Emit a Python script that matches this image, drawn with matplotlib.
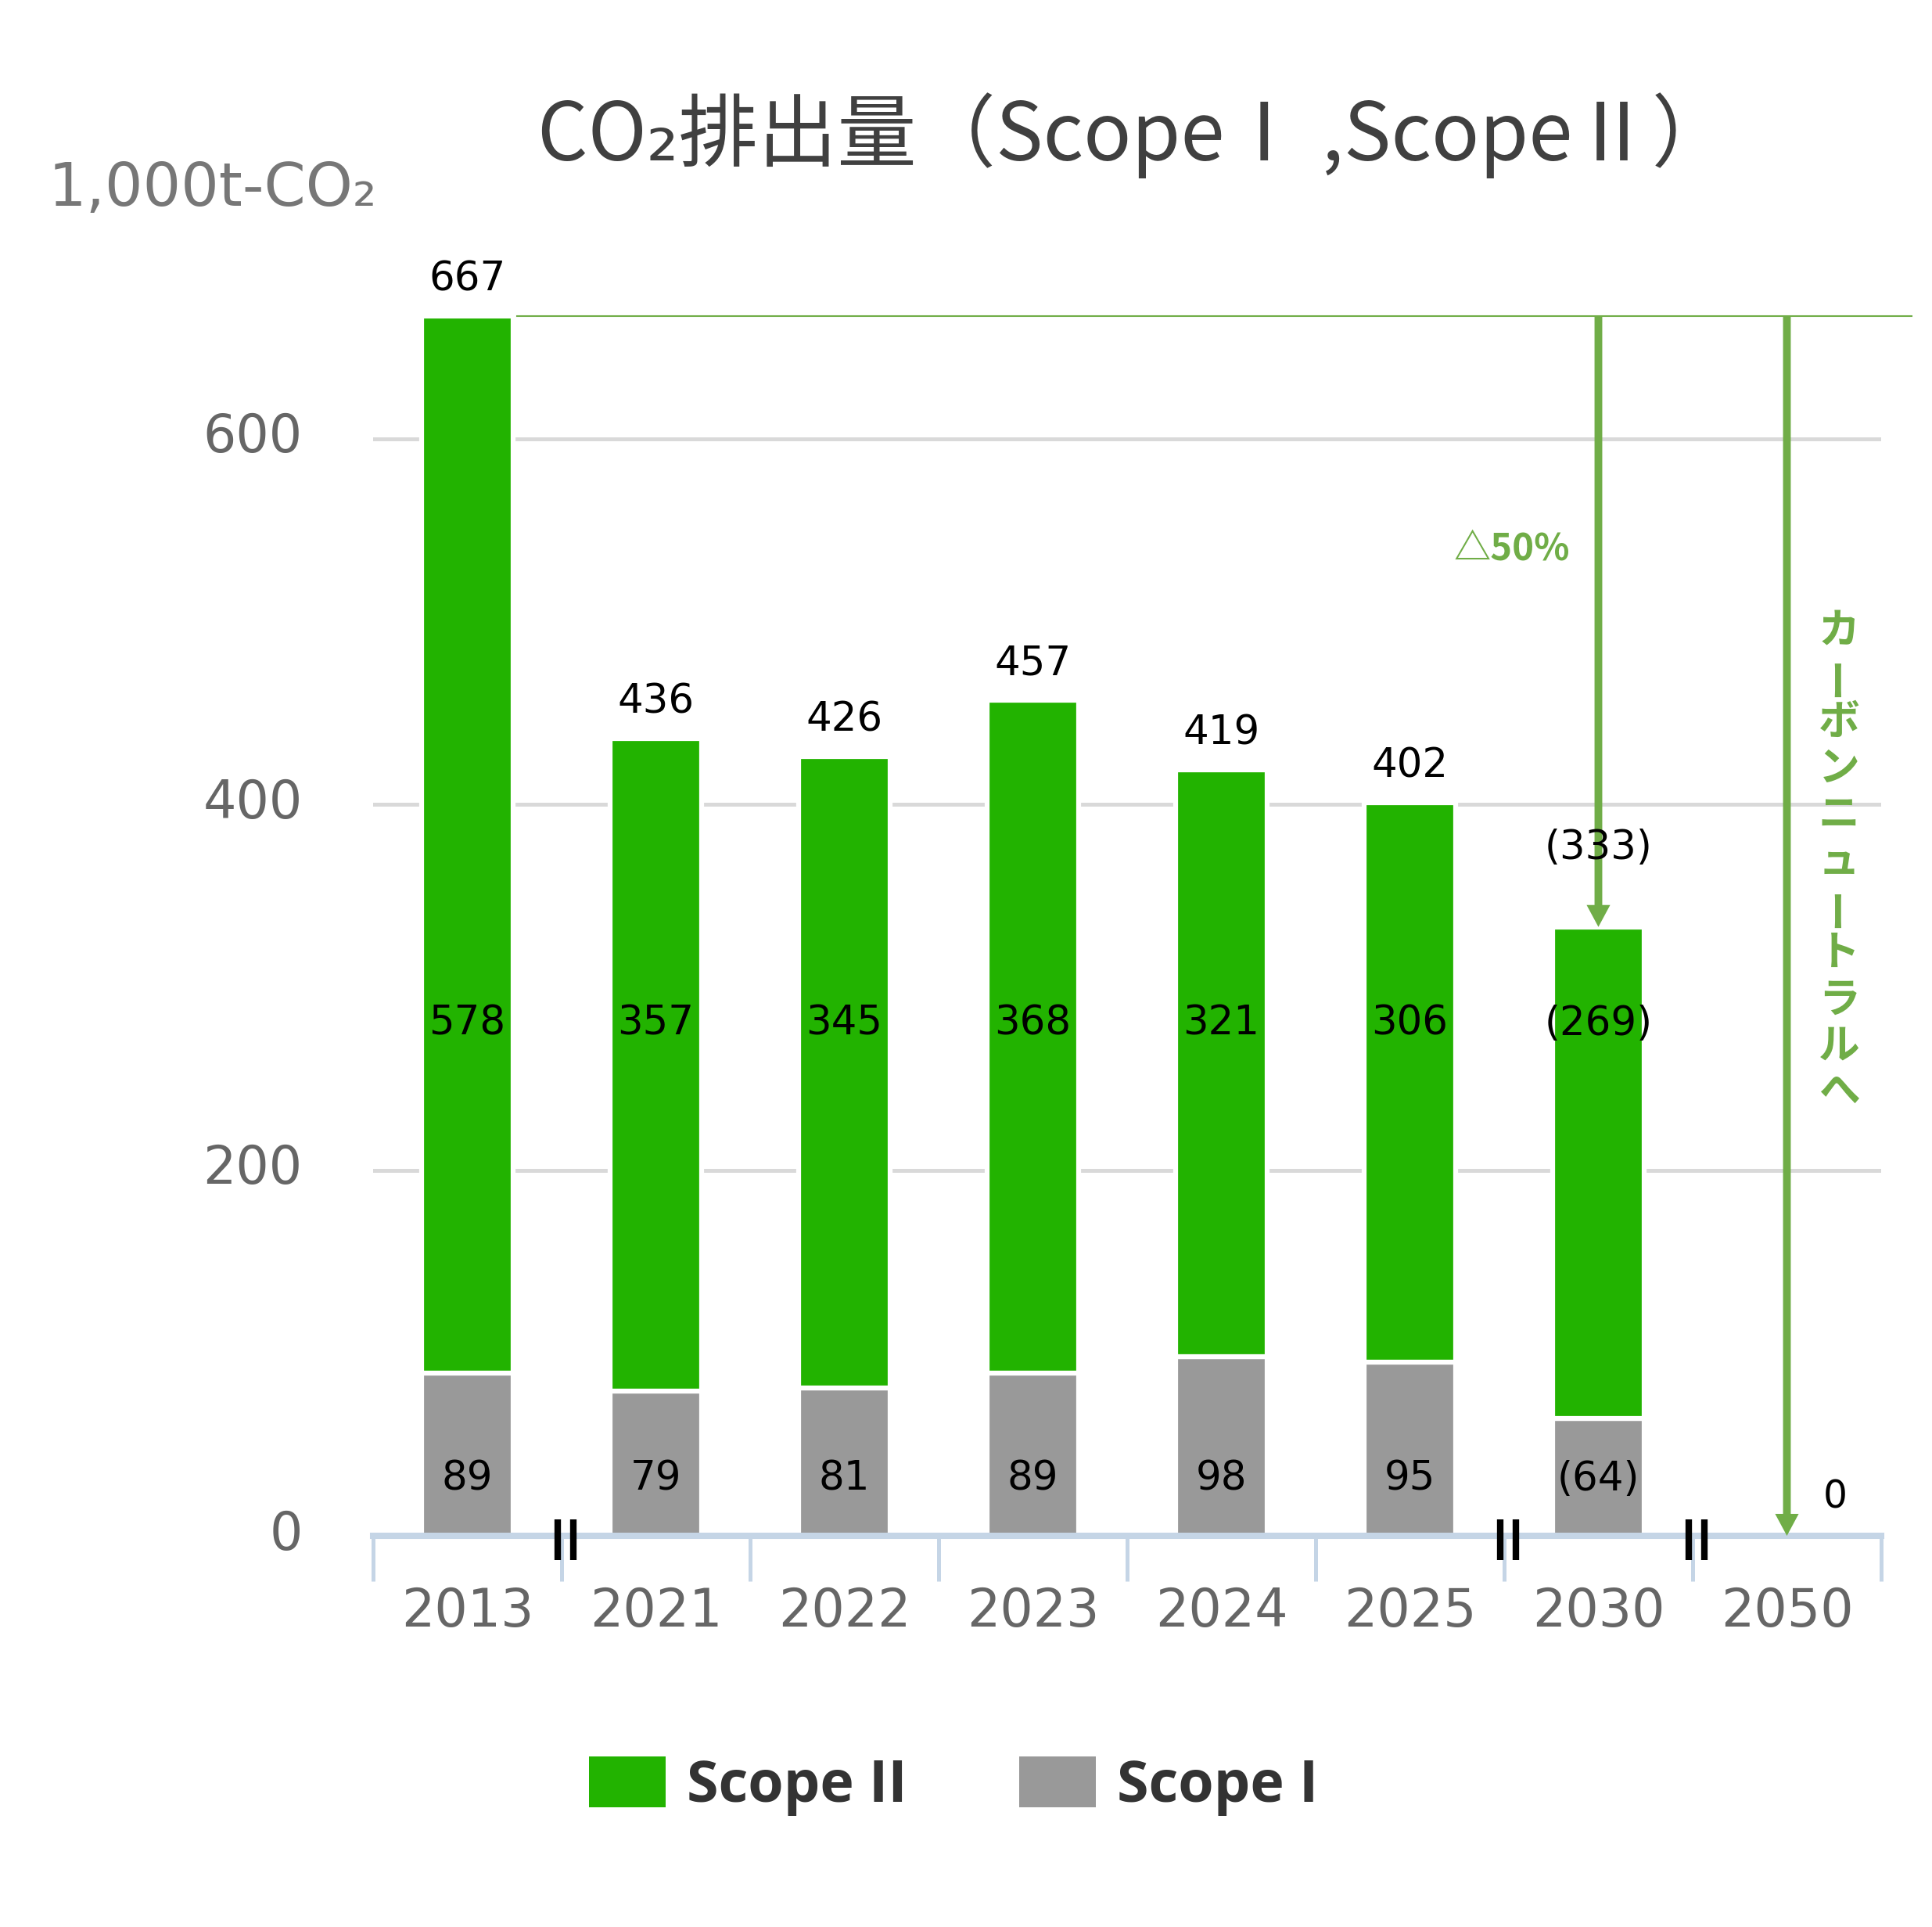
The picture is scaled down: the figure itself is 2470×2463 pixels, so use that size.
import matplotlib
matplotlib.use('Agg')
import matplotlib.pyplot as plt
import numpy as np
from matplotlib.patches import Patch
from matplotlib.transforms import offset_copy

# -- data --
years = ['2013', '2021', '2022', '2023', '2024', '2025', '2030', '2050']
scope1 = [89, 79, 81, 89, 98, 95, 64, 0]
scope2 = [578, 357, 345, 368, 321, 306, 269, 0]
total_labels = ['667', '436', '426', '457', '419', '402', '(333)', '']
scope1_labels = ['89', '79', '81', '89', '98', '95', '(64)', '']
scope2_labels = ['578', '357', '345', '368', '321', '306', '(269)', '']
base_2013 = 667
target_2030 = 333
target_2050 = 0
breaks = [0.5, 5.5, 6.5]

GREEN = '#22B300'
GREY = '#999999'
ARROW = '#70AD47'
AXIS = '#C5D5E6'
JP = ['Noto Sans CJK JP', 'DejaVu Sans']

W, H = 2470, 2463
fig = plt.figure(figsize=(W / 100, H / 100), dpi=100)
ax = fig.add_axes([477 / W, (H - 1963) / H, 1928 / W, 700 * 2.337 / H])

x = np.arange(len(years))
s1 = np.array(scope1)
s2 = np.array(scope2)
tot = s1 + s2
m = tot > 0

ax.bar(x[m], s1[m], width=0.485, color=GREY, edgecolor='white', linewidth=4.5, zorder=3)
ax.bar(x[m], s2[m], bottom=s1[m], width=0.485, color=GREEN, edgecolor='white', linewidth=4.5, zorder=3)

ax.set_xlim(-0.5, 7.5)
ax.set_ylim(0, 700)

# -- axes styling --
for s in ['left', 'right', 'top']:
    ax.spines[s].set_visible(False)
ax.spines['bottom'].set_color(AXIS)
ax.spines['bottom'].set_linewidth(5.8)
ax.spines['bottom'].set_zorder(4)

ax.set_yticks([0, 200, 400, 600])
ax.yaxis.grid(True, color='#D9D9D9', linewidth=3.6)
ax.set_axisbelow(True)
ax.tick_params(axis='y', length=0, pad=65, labelsize=48, labelcolor='#666666')
for lab in ax.get_yticklabels():
    lab.set_transform(offset_copy(lab.get_transform(), fig, x=0, y=6, units='points'))

ax.set_xticks(x)
ax.set_xticklabels(years)
ax.set_xticks(np.arange(-0.5, 8, 1), minor=True)
ax.tick_params(axis='x', which='major', length=0, pad=46, labelsize=48, labelcolor='#666666')
ax.tick_params(axis='x', which='minor', length=42, width=3.6, color=AXIS)

# -- value labels --
tot_offset = [20, 20, 20, 20, 20, 20, 43, 0]
for i in range(len(years)):
    if total_labels[i]:
        ax.text(x[i], tot[i] + tot_offset[i], total_labels[i], ha='center', va='center', fontsize=37, zorder=6)
    if scope2_labels[i]:
        ax.text(x[i], 280, scope2_labels[i], ha='center', va='center', fontsize=37, zorder=6)
    if scope1_labels[i]:
        ax.text(x[i], 31, scope1_labels[i], ha='center', va='center', fontsize=37, zorder=6)
ax.text(7.255, 21, '0', ha='center', va='center', fontsize=35, zorder=6)

# -- break marks on the axis (double bar) --
bx = np.array(breaks) + 0.022
by = np.zeros(len(breaks)) - 2
for dx in (-7.2, 7.2):
    tr = offset_copy(ax.transData, fig, x=dx, y=0, units='points')
    ax.plot(bx, by, linestyle='none', marker='|', markersize=38, markeredgewidth=6,
            color='black', transform=tr, zorder=7, clip_on=False)

# -- reduction arrows --
ax.plot([0.263, 7.66], [base_2013, base_2013], color=ARROW, linewidth=1.5, zorder=5, clip_on=False)
for xa, yt in [(6, target_2030), (7, target_2050)]:
    ax.arrow(xa, base_2013, 0, yt - base_2013, width=0.041, head_width=0.125, head_length=12,
             length_includes_head=True, color=ARROW, linewidth=0, zorder=5)

ax.text(5.54, 540, '△50%', ha='center', va='center', fontsize=34, fontweight='bold',
        color=ARROW, family=JP)

vt = 'カーボンニュートラルへ'
n = len(vt)
for i, ch in enumerate(vt):
    ax.annotate(ch, xy=(7.276, 369), xytext=(0, (n / 2 - 0.5 - i) * 42.5), textcoords='offset points',
                ha='center', va='center', fontsize=38, fontweight='bold', color=ARROW, family=JP,
                rotation=90 if ch == 'ー' else 0, rotation_mode='anchor')

# -- titles --
fig.text(1450 / W, 1 - 205 / H, 'CO₂排出量（ScopeⅠ ,ScopeⅡ）', ha='center', va='baseline',
         fontsize=73, color='#404040', family=JP)
fig.text(62 / W, 1 - 263 / H, '1,000t-CO₂', ha='left', va='baseline', fontsize=55, color='#777777')

# -- legend --
handles = [Patch(facecolor=GREEN), Patch(facecolor=GREY)]
leg = fig.legend(handles, ['Scope II', 'Scope I'], loc='center', bbox_to_anchor=(0.4935, 0.073),
                 ncol=2, frameon=False, handlelength=1.33, handleheight=0.98, handletextpad=0.37,
                 columnspacing=1.95, prop={'family': 'Open Sans', 'weight': 'bold', 'size': 53})
for t in leg.get_texts():
    t.set_color('#333333')

fig.savefig('out.png', dpi=100)
